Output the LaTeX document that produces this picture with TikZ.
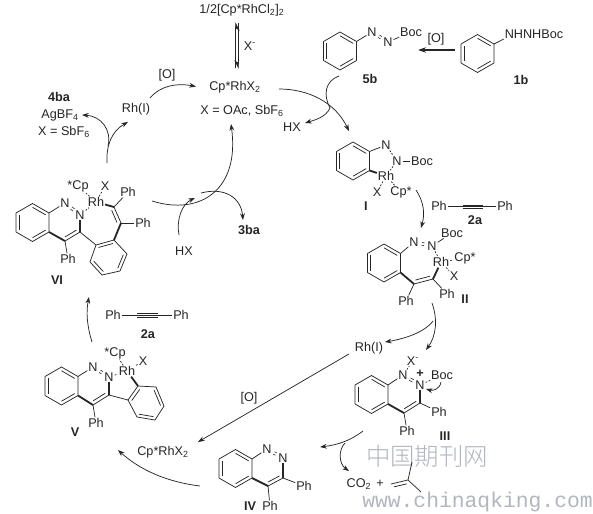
\documentclass[tikz,border=0pt]{standalone}
\usepackage{fontspec}
\setmainfont{Liberation Sans}
\newfontfamily\cjkwm{Noto Sans CJK SC Light}
\newfontfamily\monowm{Liberation Mono}
\usetikzlibrary{arrows.meta,calc}
\definecolor{wmgray}{RGB}{178,182,190}
\tikzset{
  bond/.style={line width=0.55pt,black!85},
  boldbond/.style={line width=1.35pt,black!85},
  dotbond/.style={line width=0.55pt,black!85,dash pattern=on 1.3pt off 1.1pt},
  atom/.style={font=\fontsize{9.5}{11}\selectfont,inner sep=0.6pt,text=black!85},
  lab/.style={font=\fontsize{9.5}{11}\selectfont,inner sep=0.5pt,text=black!85},
  cmpd/.style={font=\fontsize{9.5}{11}\selectfont\bfseries,inner sep=0.5pt,text=black!85},
  rxn/.style={line width=0.55pt,black!85,-{Stealth[length=5pt,width=3.6pt]}},
  rxnline/.style={line width=0.55pt,black!85},
}
\newcommand{\innerdbl}[3]{\draw[bond] ($(#1)!.2!(#3)$) -- ($(#2)!.2!(#3)$);}
\newcommand{\benz}[3]{%
  \coordinate (#1c) at (#2,#3);
  \coordinate (#11) at (#2,#3-19);
  \coordinate (#12) at (#2+16.5,#3-9.5);
  \coordinate (#13) at (#2+16.5,#3+9.5);
  \coordinate (#14) at (#2,#3+19);
  \coordinate (#15) at (#2-16.5,#3+9.5);
  \coordinate (#16) at (#2-16.5,#3-9.5);
  \draw[bond,line join=round] (#11)--(#12)--(#13)--(#14)--(#15)--(#16)--cycle;
  \innerdbl{#16}{#15}{#1c}\innerdbl{#11}{#12}{#1c}\innerdbl{#13}{#14}{#1c}}
\newcommand{\sidedbl}[3]{\draw[bond] ($(#1)!.12!(#2)!2.6pt!#3:(#2)$) -- ($(#2)!.12!(#1)!2.6pt!-#3:(#1)$);}
\newcommand{\nndbl}[2]{%
  \draw[line width=0.45pt,black!85] ($(#1)!6pt!(#2)!1pt!90:(#2)$) -- ($(#2)!6pt!(#1)!1pt!-90:(#1)$);
  \draw[line width=0.45pt,black!85] ($(#1)!6pt!(#2)!1pt!-90:(#2)$) -- ($(#2)!6pt!(#1)!1pt!90:(#1)$);}
\begin{document}
\begin{tikzpicture}[x=0.75pt,y=-0.75pt]
\useasboundingbox (0,0) rectangle (593,514);
\fill[white] (0,0) rectangle (593,514);
% watermark
\node[inner sep=0,text=wmgray,font=\cjkwm\fontsize{18.3}{20}\selectfont] (wm1) at (427,456) {中国期刊网};
\node[inner sep=0,text=wmgray,font=\monowm\fontsize{16}{18}\selectfont] (wm2) at (477.5,502) {www.chinaqking.com};

% ---- catalyst labels
\node[lab] (dimer) at (242,10) {1/2[Cp*RhCl\textsubscript{2}]\textsubscript{2}};
\node[lab] (xminus) at (250,46) {X\textsuperscript{-}};
\node[lab] (cat) at (235,87) {Cp*RhX\textsubscript{2}};
\node[lab] (xdef) at (242,111) {X = OAc, SbF\textsubscript{6}};
\node[lab] (oa) at (167,75) {[O]};
\node[lab] (rh1a) at (136,109) {Rh(I)};
\node[cmpd] (l4ba) at (59,97) {4ba};
\node[lab] (agbf) at (60,115) {AgBF\textsubscript{4}};
\node[lab] (xsbf) at (64,132) {X = SbF\textsubscript{6}};
\node[cmpd] (l3ba) at (249,230) {3ba};
\node[lab] (hxa) at (184,251) {HX};
\node[lab] (hxb) at (292,127) {HX};

% equilibrium
\coordinate (eqa) at (235.7,68); \coordinate (eqb) at (235.7,22);
\coordinate (eqc) at (238.3,23); \coordinate (eqd) at (238.3,69);
\draw[line width=0.6pt,black!85,-{Stealth[length=6pt,width=6pt,harpoon,swap]}] (eqa) -- (eqb);
\draw[line width=0.6pt,black!85,-{Stealth[length=6pt,width=6pt,harpoon,swap]}] (eqc) -- (eqd);

% ---- 5b
\benz{p}{340}{51}
\node[atom] (pn1) at (372,32) {N};
\node[atom] (pn2) at (388,42) {N};
\node[lab] (pboc) at (411,32) {Boc};
\draw[bond] (p2) -- (pn1);
\nndbl{pn1}{pn2}
\draw[bond] (pn2) -- (pboc);
\node[cmpd] (l5b) at (370,79) {5b};
% ---- 1b
\benz{q}{477.5}{53.5}
\node[lab] (qnh) at (534,34) {NHNHBoc};
\draw[bond] (q2) -- (qnh.west |- 0,39);
\node[cmpd] (l1b) at (521,80) {1b};
\node[lab] (ob) at (436,39) {[O]};
\coordinate (obs) at (455,50); \coordinate (obe) at (418,50);
\draw[line width=0.9pt,black!85,-{Stealth[length=6pt,width=4pt]}] (obs) -- (obe);

% ---- I
\benz{r}{353}{161}
\node[atom] (rn1) at (386,145) {N};
\node[atom] (rn2) at (397,161) {N};
\node[lab] (rboc) at (422,161) {Boc};
\node[atom] (rrh) at (386,176) {Rh};
\node[atom] (rx) at (377,192) {X};
\node[atom] (rcp) at (401,192) {Cp*};
\node[cmpd] (lI) at (366,206) {I};
\draw[bond] (r2) -- (rn1);
\draw[dotbond] (rn1) -- (rn2);
\draw[bond] (rn2) -- (rboc);
\draw[boldbond] (r3) -- (rrh);
\draw[dotbond] (rrh) -- (rn2);
\draw[dotbond] (rrh) -- (rx);
\draw[dotbond] (rrh) -- (rcp);
% 2a upper
\node[lab] (ph1) at (439,206) {Ph};
\node[lab] (ph2) at (505,206) {Ph};
\node[cmpd] (l2au) at (475,220) {2a};
\draw[bond] (ph1) -- (ph2);
\coordinate (tua) at (463,205.2); \coordinate (tub) at (483,205.2);
\coordinate (tuc) at (463,208.8); \coordinate (tud) at (483,208.8);
\draw[bond] (tua) -- (tub); \draw[bond] (tuc) -- (tud);

% ---- II
\benz{s}{384}{263}
\node[atom] (sn1) at (414,242) {N};
\node[atom] (sn2) at (432,246) {N};
\node[lab] (sboc) at (452,233) {Boc};
\node[atom] (srh) at (441,262) {Rh};
\node[lab] (scp) at (465,258) {Cp*};
\node[atom] (sx) at (454,276) {X};
\node[atom] (sph1) at (447,294) {Ph};
\node[atom] (sph2) at (406,301) {Ph};
\node[cmpd] (lII) at (465,299) {II};
\coordinate (sc1) at (414,284); \coordinate (sc2) at (433,279);
\draw[bond] (s2) -- (sn1);
\nndbl{sn1}{sn2}
\draw[bond] (sn2) -- (sboc);
\draw[dotbond] (sn2) -- (srh);
\draw[dotbond] (srh) -- (scp);
\draw[dotbond] (srh) -- (sx);
\draw[boldbond] (s3) -- (sc1);
\draw[bond] (sc1) -- (sc2);
\sidedbl{sc1}{sc2}{90}
\draw[boldbond] (sc2) -- (srh);
\draw[bond] (sc2) -- (sph1);
\draw[bond] (sc1) -- (sph2);

% ---- III
\benz{t}{371.5}{394.5}
\node[atom] (tn1) at (403,375) {N};
\node[atom] (tn2) at (420,385) {N};
\node[lab] (tplus) at (420,374) {\bfseries +};
\node[lab] (tx) at (413,361) {X\textsuperscript{-}};
\node[lab] (tboc) at (442,375) {Boc};
\node[atom] (tph1) at (439,412) {Ph};
\node[atom] (tph2) at (407,431) {Ph};
\node[cmpd] (lIII) at (445,436) {III};
\coordinate (tc4) at (404,413); \coordinate (tc3) at (420,403);
\draw[bond] (t2) -- (tn1);
\nndbl{tn1}{tn2}
\draw[dotbond] (tn1) -- (tx);
\draw[dotbond] (tn2) -- (tboc);
\draw[boldbond] (tn2) -- (tc3);
\draw[bond] (tc3) -- (tc4);
\sidedbl{tc4}{tc3}{90}
\draw[boldbond] (t3) -- (tc4);
\draw[bond] (tc3) -- (tph1);
\draw[bond] (tc4) -- (tph2);
\coordinate (tbs) at (441,382); \coordinate (tbe) at (426,389);
\draw[rxn] (tbs) .. controls (440,389) and (433,391) .. (tbe);

% ---- IV
\benz{u}{235.5}{468.5}
\node[atom] (un1) at (267,449) {N};
\node[atom] (un2) at (283,458) {N};
\node[atom] (uph1) at (304,486) {Ph};
\node[atom] (uph2) at (270,506) {Ph};
\node[cmpd] (lIV) at (250,506) {IV};
\coordinate (uc4) at (268,486); \coordinate (uc3) at (283,478);
\draw[bond] (u2) -- (un1);
\nndbl{un1}{un2}
\draw[boldbond] (un2) -- (uc3);
\draw[bond] (uc3) -- (uc4);
\sidedbl{uc4}{uc3}{90}
\draw[boldbond] (u3) -- (uc4);
\draw[bond] (uc3) -- (uph1);
\draw[bond] (uc4) -- (uph2);
\node[lab] (cat3) at (163,452) {Cp*RhX\textsubscript{2}};

% ---- V
\benz{v}{61.5}{386}
\node[atom] (vn1) at (93,367) {N};
\node[atom] (vn2) at (109,377) {N};
\node[atom] (vrh) at (127,371) {Rh};
\node[lab] (vcp) at (115,353) {*Cp};
\node[atom] (vx) at (143,361) {X};
\node[atom] (vph) at (96,423) {Ph};
\node[cmpd] (lV) at (75,432) {V};
\coordinate (vc4) at (93,405); \coordinate (vc3) at (109,395);
\draw[bond] (v2) -- (vn1);
\nndbl{vn1}{vn2}
\draw[boldbond] (vn2) -- (vc3);
\draw[bond] (vc3) -- (vc4);
\sidedbl{vc4}{vc3}{90}
\draw[boldbond] (v3) -- (vc4);
\draw[bond] (vc4) -- (vph);
\draw[dotbond] (vn2) -- (vrh);
\draw[dotbond] (vrh) -- (vcp);
\draw[dotbond] (vrh) -- (vx);
\coordinate (a1) at (128,400); \coordinate (a2) at (138,386); \coordinate (a3) at (156,387);
\coordinate (a4) at (164,406); \coordinate (a5) at (155,420); \coordinate (a6) at (137,417);
\coordinate (ac) at (146.5,403);
\draw[bond,line join=round] (a1)--(a2)--(a3)--(a4)--(a5)--(a6)--cycle;
\innerdbl{a1}{a2}{ac}\innerdbl{a3}{a4}{ac}\innerdbl{a5}{a6}{ac}
\draw[bond] (vc3) -- (a1);
\draw[boldbond] (a2) -- (vrh);
% 2a lower
\node[lab] (ph3) at (113,315) {Ph};
\node[lab] (ph4) at (181,315) {Ph};
\node[cmpd] (l2al) at (148,334) {2a};
\draw[bond] (ph3) -- (ph4);
\coordinate (tla) at (137,313.5); \coordinate (tlb) at (158,313.5);
\coordinate (tlc) at (137,317); \coordinate (tld) at (158,317);
\draw[bond] (tla) -- (tlb); \draw[bond] (tlc) -- (tld);

% ---- VI
\benz{w}{32.5}{222.5}
\node[atom] (wn1) at (65,203) {N};
\node[atom] (wn2) at (80,215) {N};
\node[atom] (wrh) at (96,202) {Rh};
\node[lab] (wcp) at (78,186) {*Cp};
\node[atom] (wx) at (105,186) {X};
\node[atom] (wph1) at (128,192) {Ph};
\node[atom] (wph2) at (143,223) {Ph};
\node[atom] (wph3) at (68,259) {Ph};
\node[cmpd] (lVI) at (57,280) {VI};
\coordinate (wc4) at (65,241); \coordinate (wc3) at (80,232);
\coordinate (wc5) at (121,223); \coordinate (wc6) at (114,207);
\draw[bond] (w2) -- (wn1);
\nndbl{wn1}{wn2}
\draw[boldbond] (wn2) -- (wc3);
\draw[bond] (wc3) -- (wc4);
\sidedbl{wc4}{wc3}{90}
\draw[boldbond] (w3) -- (wc4);
\draw[bond] (wc4) -- (wph3);
\draw[dotbond] (wn2) -- (wrh);
\draw[dotbond] (wrh) -- (wcp);
\draw[dotbond] (wrh) -- (wx);
\coordinate (b1) at (96,245); \coordinate (b2) at (114,240); \coordinate (b3) at (127,254);
\coordinate (b4) at (120,271); \coordinate (b5) at (102,275); \coordinate (b6) at (90,262);
\coordinate (bc) at (108.5,257.5);
\draw[bond,line join=round] (b1)--(b2)--(b3)--(b4)--(b5)--(b6)--cycle;
\innerdbl{b1}{b2}{bc}\innerdbl{b3}{b4}{bc}\innerdbl{b5}{b6}{bc}
\draw[bond] (wc3) -- (b1);
\draw[boldbond] (b2) -- (wc5);
\draw[bond] (wc5) -- (wc6);
\sidedbl{wc5}{wc6}{90}
\draw[boldbond] (wc6) -- (wrh);
\draw[bond] (wc6) -- (wph1);
\draw[bond] (wc5) -- (wph2);

% ---- byproducts
\node[lab] (co2) at (359,484) {CO\textsubscript{2}};
\node[lab] (plus) at (380,484) {+};
\coordinate (ib0) at (408,480); \coordinate (ib1) at (412,462);
\coordinate (ib2) at (421,492); \coordinate (ib3) at (391,484);
\draw[bond] (ib0) -- (ib1); \draw[bond] (ib0) -- (ib2); \draw[bond] (ib0) -- (ib3);
\sidedbl{ib0}{ib3}{90}
\node[lab] (rh1b) at (369,348) {Rh(I)};
\node[lab] (o3) at (249,398) {[O]};

% ---- reaction arrows
\coordinate (c1) at (150,98); \coordinate (c2) at (196,86.5);
\draw[rxn] (c1) .. controls (161,85) and (178,83) .. (c2);
\coordinate (c3) at (107,163); \coordinate (c4) at (128,122);
\draw[rxn] (c3) .. controls (106,145) and (112,131) .. (c4);
\coordinate (c5) at (108,146); \coordinate (c6) at (82,115);
\draw[rxn] (c5) .. controls (112,130) and (101,116) .. (c6);
\coordinate (c7) at (152,201); \coordinate (c8) at (231,124);
\draw[rxn] (c7) .. controls (200,216) and (240,190) .. (c8);
\coordinate (c9) at (179,235); \coordinate (c10) at (195,198);
\draw[rxn] (c9) .. controls (176,220) and (182,204) .. (c10);
\coordinate (c11) at (201,193); \coordinate (c12) at (243,220);
\draw[rxn] (c11) .. controls (224,187) and (241,197) .. (c12);
\coordinate (c13) at (279,89); \coordinate (c14) at (349,131);
\draw[rxn] (c13) .. controls (308,89) and (335,102) .. (c14);
\coordinate (c15) at (339,76); \coordinate (c16) at (330,108); \coordinate (c17) at (305,123);
\draw[rxnline] (c15) .. controls (325,81) and (323,95) .. (c16);
\draw[rxn] (c16) .. controls (326,117) and (315,120) .. (c17);
\coordinate (c18) at (416,190); \coordinate (c19) at (421,228);
\draw[rxn] (c18) .. controls (424,202) and (425,214) .. (c19);
\coordinate (c20) at (432,303); \coordinate (c21) at (426,350);
\draw[rxn] (c20) .. controls (438,320) and (436,336) .. (c21);
\coordinate (c22) at (433,321); \coordinate (c23) at (385,342);
\draw[rxn] (c22) .. controls (424,333) and (403,339) .. (c23);
\coordinate (c24) at (349,354); \coordinate (c25) at (198,442);
\draw[rxn] (c24) -- (c25);
\coordinate (c26) at (200,486); \coordinate (c27) at (118,450);
\draw[rxn] (c26) .. controls (167,482) and (140,470) .. (c27);
\coordinate (c28) at (363,431); \coordinate (c29) at (320,447);
\draw[rxn] (c28) .. controls (350,441) and (337,445) .. (c29);
\coordinate (c30) at (345,443); \coordinate (c31) at (349,471);
\draw[rxn] (c30) .. controls (338,450) and (339,464) .. (c31);
\coordinate (c32) at (92,342); \coordinate (c33) at (89,297);
\draw[rxn] (c32) .. controls (87,326) and (86,312) .. (c33);
\end{tikzpicture}
\end{document}
